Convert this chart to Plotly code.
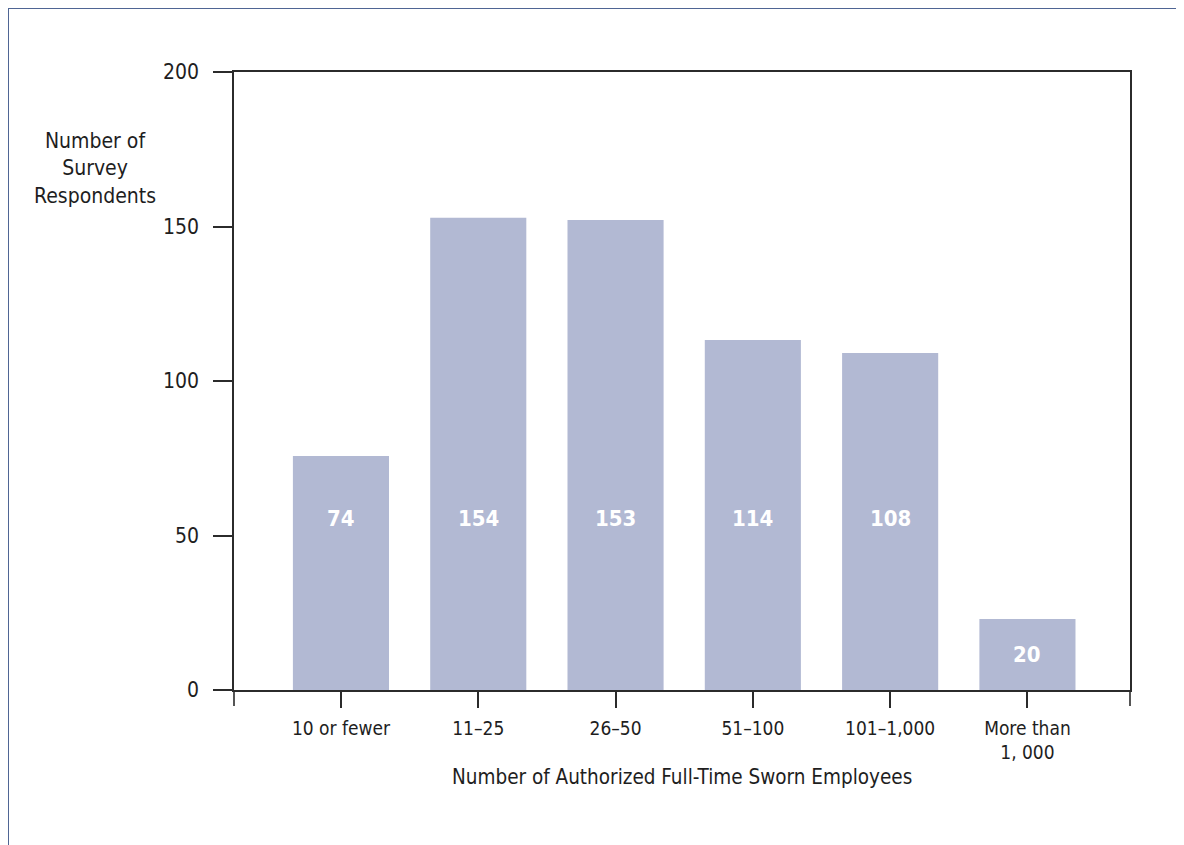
import plotly.graph_objects as go

categories = ["10 or fewer", "11\u201325", "26\u201350", "51\u2013100", "101\u20131,000", "More than<br>1, 000"]
bar_heights = [75.7, 152.8, 152.1, 113.3, 109.1, 23.0]
bar_labels = ["74", "154", "153", "114", "108", "20"]
y_ticks = [0, 50, 100, 150, 200]

FONT = "DejaVu Sans Condensed, Liberation Sans Narrow, Arial Narrow, sans-serif"
BAR_COLOR = "#b2b9d3"
AXIS_COLOR = "#2b2b2b"
TEXT_COLOR = "#1e1e1e"
FRAME_COLOR = "#4f6594"

# page body margin offset (browser default 8px)
OFF = 8
W, H = 1184 - OFF, 845 - OFF
# reference pixel positions of the plot area
L, R, T, B = 234 - OFF, 1130 - OFF, 72 - OFF, 690 - OFF


def px_x(p):
    return (p - OFF - L) / (R - L)


def px_y(p):
    return (B - (p - OFF)) / (B - T)


x_idx = list(range(len(categories)))

fig = go.Figure()
fig.add_trace(go.Bar(
    x=x_idx, y=bar_heights, width=0.70,
    marker=dict(color=BAR_COLOR, line=dict(width=0)),
    hoverinfo="skip",
))

label_y = [55.5 if h > 60 else h / 2 for h in bar_heights]
for xi, ly, txt in zip(x_idx, label_y, bar_labels):
    fig.add_annotation(x=xi, y=ly, text=f"<b>{txt}</b>", showarrow=False,
                       font=dict(family=FONT, size=22, color="white"),
                       xref="x", yref="y")

# y-axis title as horizontal multi-line text
fig.add_annotation(xref="paper", yref="paper",
                   x=px_x(95), y=px_y(168),
                   text="Number of<br>Survey<br>Respondents", showarrow=False,
                   align="center", xanchor="center", yanchor="middle",
                   font=dict(family=FONT, size=21, color=TEXT_COLOR))

# x-axis title
fig.add_annotation(xref="paper", yref="paper",
                   x=0.5, y=px_y(777),
                   text="Number of Authorized Full-Time Sworn Employees", showarrow=False,
                   xanchor="center", yanchor="middle",
                   font=dict(family=FONT, size=20.5, color=TEXT_COLOR))

# boundary ticks at plot edges below x axis
for px in (0, 1):
    fig.add_shape(type="line", xref="paper", yref="paper",
                  x0=px, x1=px, y0=0, y1=-16 / (B - T),
                  line=dict(color=AXIS_COLOR, width=1.6))

# page frame lines (top and left)
fx = px_x(8.0)
fy = px_y(8.0)
fig.add_shape(type="line", xref="paper", yref="paper",
              x0=fx, x1=px_x(1200), y0=fy, y1=fy,
              line=dict(color=FRAME_COLOR, width=2))
fig.add_shape(type="line", xref="paper", yref="paper",
              x0=fx, x1=fx, y0=fy, y1=px_y(860),
              line=dict(color=FRAME_COLOR, width=2))

fig.update_layout(
    width=W, height=H,
    margin=dict(l=L, r=W - R, t=T, b=H - B),
    plot_bgcolor="white", paper_bgcolor="white",
    showlegend=False,
    xaxis=dict(
        range=[-0.779, 5.747],
        tickmode="array", tickvals=x_idx, ticktext=categories,
        ticks="outside", ticklen=16, tickwidth=1.6, tickcolor=AXIS_COLOR,
        showline=True, linecolor=AXIS_COLOR, linewidth=1.6, mirror=True,
        showgrid=False, zeroline=False,
        tickfont=dict(family=FONT, size=19, color=TEXT_COLOR),
        ticklabelstandoff=4,
    ),
    yaxis=dict(
        range=[0, 200],
        tickmode="array", tickvals=y_ticks,
        ticks="outside", ticklen=19, tickwidth=1.6, tickcolor=AXIS_COLOR,
        showline=True, linecolor=AXIS_COLOR, linewidth=1.6, mirror=True,
        showgrid=False, zeroline=False,
        tickfont=dict(family=FONT, size=21, color=TEXT_COLOR),
        ticklabelstandoff=10,
    ),
)

fig.write_html("out.html")
